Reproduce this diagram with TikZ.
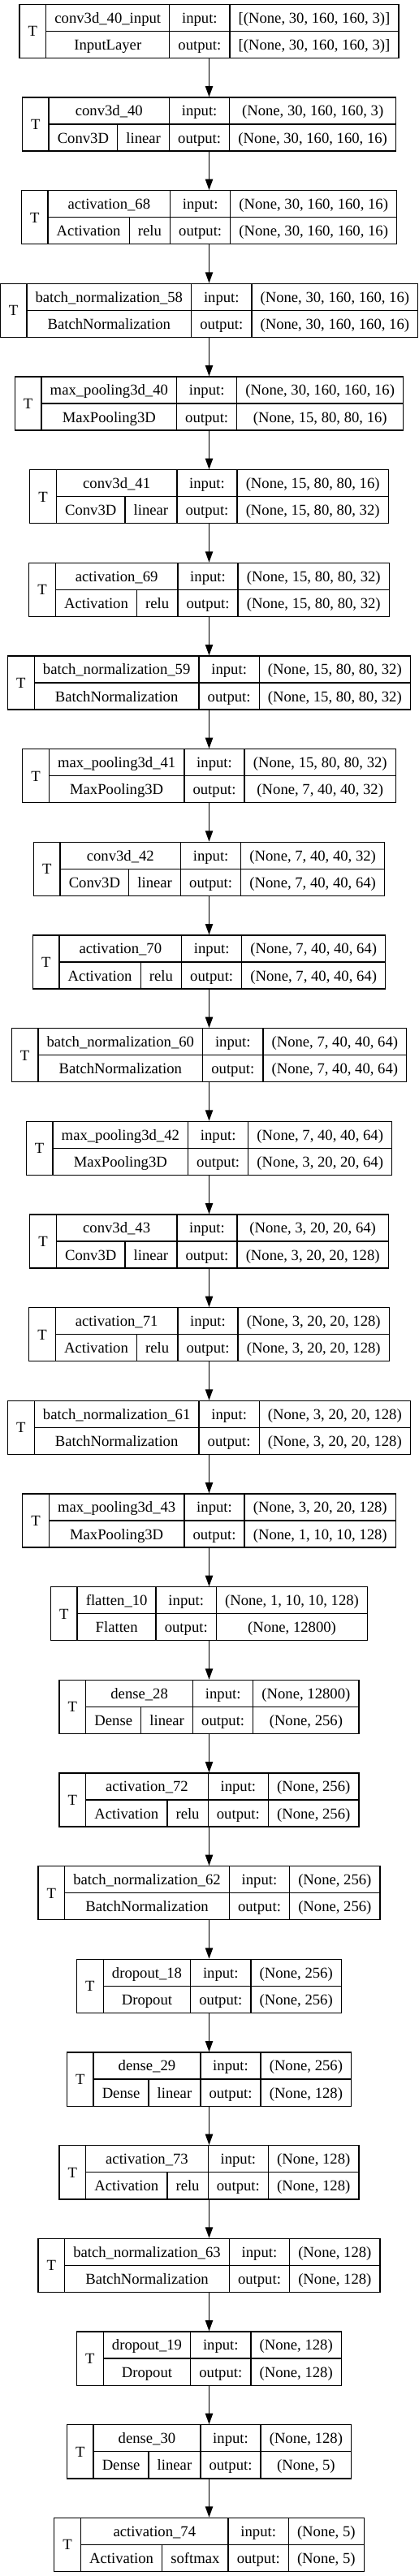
\documentclass[tikz,border=0pt]{standalone}
\usepackage{fontspec}
\setmainfont{Liberation Serif}
\usetikzlibrary{arrows.meta}
\newcommand\kf{\fontsize{14pt}{16.8pt}\selectfont}
\newcommand\kmeasure[2]{%
  \pgfinterruptpicture\setbox0=\hbox{\kf #2}\xdef#1{\the\wd0}\endpgfinterruptpicture}
\tikzset{
  kbox/.style={draw=black, line width=1pt, minimum height=49.6pt, inner sep=0pt, fill=white},
  kline/.style={draw=black, line width=1pt},
  ktext/.style={font=\kf, inner sep=0pt, anchor=base, text=black},
  karr/.style={draw=black, line width=1pt, -{Triangle[length=10pt,width=7pt]}}
}
\newcommand\klayer[7]{%
  \pgfmathsetmacro\cy{-(28.8+86*#2)}%
  \kmeasure\mA{T}\pgfmathsetlengthmacro\wT{\mA+16pt}%
  \kmeasure\mA{#3}\pgfmathsetlengthmacro\wNa{\mA+16pt}%
  \kmeasure\mA{#4}\pgfmathsetlengthmacro\wC{\mA+16pt}%
  \if\relax\detokenize{#5}\relax
    \pgfmathsetlengthmacro\wA{0pt}%
    \pgfmathsetlengthmacro\wN{max(\wNa,\wC)}%
    \pgfmathsetlengthmacro\wC{\wN}%
  \else
    \kmeasure\mA{#5}\pgfmathsetlengthmacro\wA{\mA+16pt}%
    \pgfmathsetlengthmacro\wN{max(\wNa,\wC+\wA)}%
    \pgfmathsetlengthmacro\wC{\wC+(\wN-\wC-\wA)/2}%
  \fi
  \kmeasure\mA{output:}\pgfmathsetlengthmacro\wIO{\mA+16pt}%
  \kmeasure\mA{#6}\kmeasure\mB{#7}%
  \pgfmathsetlengthmacro\wS{max(\mA,\mB)+16pt}%
  \pgfmathsetlengthmacro\wW{\wT+\wN+\wIO+\wS}%
  \pgfmathsetlengthmacro\xL{193.125pt-\wW/2}%
  \pgfmathsetlengthmacro\xa{\xL+\wT}%
  \pgfmathsetlengthmacro\xm{\xa+\wC}%
  \pgfmathsetlengthmacro\xb{\xa+\wN}%
  \pgfmathsetlengthmacro\xc{\xb+\wIO}%
  \pgfmathsetlengthmacro\xR{\xc+\wS}%
  \node[kbox, minimum width=\wW] (#1) at (193.125pt,\cy pt) {};
  \draw[kline] (\xa,\cy pt+24.8pt) -- (\xa,\cy pt-24.8pt);
  \draw[kline] (\xb,\cy pt+24.8pt) -- (\xb,\cy pt-24.8pt);
  \draw[kline] (\xc,\cy pt+24.8pt) -- (\xc,\cy pt-24.8pt);
  \draw[kline] (\xa,\cy pt) -- (\xR,\cy pt);
  \node[ktext] (#1-t) at ({(\xL+\xa)/2},\cy pt-4.8pt) {T};
  \node[ktext] (#1-n) at ({(\xa+\xb)/2},\cy pt+7.6pt) {#3};
  \if\relax\detokenize{#5}\relax
    \node[ktext] (#1-c) at ({(\xa+\xb)/2},\cy pt-17.2pt) {#4};
  \else
    \draw[kline] (\xm,\cy pt) -- (\xm,\cy pt-24.8pt);
    \node[ktext] (#1-c) at ({(\xa+\xm)/2},\cy pt-17.2pt) {#4};
    \node[ktext] (#1-a) at ({(\xm+\xb)/2},\cy pt-17.2pt) {#5};
  \fi
  \node[ktext] (#1-i) at ({(\xb+\xc)/2},\cy pt+7.6pt) {input:};
  \node[ktext] (#1-o) at ({(\xb+\xc)/2},\cy pt-17.2pt) {output:};
  \node[ktext] (#1-si) at ({(\xc+\xR)/2},\cy pt+7.6pt) {#6};
  \node[ktext] (#1-so) at ({(\xc+\xR)/2},\cy pt-17.2pt) {#7};
}
\begin{document}
\begin{tikzpicture}
\useasboundingbox[fill=white] (0pt,0pt) rectangle (386.25pt,-2379.75pt);
\klayer{L0}{0}{conv3d\_40\_input}{InputLayer}{}{[(None, 30, 160, 160, 3)]}{[(None, 30, 160, 160, 3)]}
\klayer{L1}{1}{conv3d\_40}{Conv3D}{linear}{(None, 30, 160, 160, 3)}{(None, 30, 160, 160, 16)}
\klayer{L2}{2}{activation\_68}{Activation}{relu}{(None, 30, 160, 160, 16)}{(None, 30, 160, 160, 16)}
\klayer{L3}{3}{batch\_normalization\_58}{BatchNormalization}{}{(None, 30, 160, 160, 16)}{(None, 30, 160, 160, 16)}
\klayer{L4}{4}{max\_pooling3d\_40}{MaxPooling3D}{}{(None, 30, 160, 160, 16)}{(None, 15, 80, 80, 16)}
\klayer{L5}{5}{conv3d\_41}{Conv3D}{linear}{(None, 15, 80, 80, 16)}{(None, 15, 80, 80, 32)}
\klayer{L6}{6}{activation\_69}{Activation}{relu}{(None, 15, 80, 80, 32)}{(None, 15, 80, 80, 32)}
\klayer{L7}{7}{batch\_normalization\_59}{BatchNormalization}{}{(None, 15, 80, 80, 32)}{(None, 15, 80, 80, 32)}
\klayer{L8}{8}{max\_pooling3d\_41}{MaxPooling3D}{}{(None, 15, 80, 80, 32)}{(None, 7, 40, 40, 32)}
\klayer{L9}{9}{conv3d\_42}{Conv3D}{linear}{(None, 7, 40, 40, 32)}{(None, 7, 40, 40, 64)}
\klayer{L10}{10}{activation\_70}{Activation}{relu}{(None, 7, 40, 40, 64)}{(None, 7, 40, 40, 64)}
\klayer{L11}{11}{batch\_normalization\_60}{BatchNormalization}{}{(None, 7, 40, 40, 64)}{(None, 7, 40, 40, 64)}
\klayer{L12}{12}{max\_pooling3d\_42}{MaxPooling3D}{}{(None, 7, 40, 40, 64)}{(None, 3, 20, 20, 64)}
\klayer{L13}{13}{conv3d\_43}{Conv3D}{linear}{(None, 3, 20, 20, 64)}{(None, 3, 20, 20, 128)}
\klayer{L14}{14}{activation\_71}{Activation}{relu}{(None, 3, 20, 20, 128)}{(None, 3, 20, 20, 128)}
\klayer{L15}{15}{batch\_normalization\_61}{BatchNormalization}{}{(None, 3, 20, 20, 128)}{(None, 3, 20, 20, 128)}
\klayer{L16}{16}{max\_pooling3d\_43}{MaxPooling3D}{}{(None, 3, 20, 20, 128)}{(None, 1, 10, 10, 128)}
\klayer{L17}{17}{flatten\_10}{Flatten}{}{(None, 1, 10, 10, 128)}{(None, 12800)}
\klayer{L18}{18}{dense\_28}{Dense}{linear}{(None, 12800)}{(None, 256)}
\klayer{L19}{19}{activation\_72}{Activation}{relu}{(None, 256)}{(None, 256)}
\klayer{L20}{20}{batch\_normalization\_62}{BatchNormalization}{}{(None, 256)}{(None, 256)}
\klayer{L21}{21}{dropout\_18}{Dropout}{}{(None, 256)}{(None, 256)}
\klayer{L22}{22}{dense\_29}{Dense}{linear}{(None, 256)}{(None, 128)}
\klayer{L23}{23}{activation\_73}{Activation}{relu}{(None, 128)}{(None, 128)}
\klayer{L24}{24}{batch\_normalization\_63}{BatchNormalization}{}{(None, 128)}{(None, 128)}
\klayer{L25}{25}{dropout\_19}{Dropout}{}{(None, 128)}{(None, 128)}
\klayer{L26}{26}{dense\_30}{Dense}{linear}{(None, 128)}{(None, 5)}
\klayer{L27}{27}{activation\_74}{Activation}{softmax}{(None, 5)}{(None, 5)}
\foreach \a [evaluate=\a as \b using int(\a+1)] in {0,...,26} {
  \draw[karr] (L\a.south) -- (L\b.north);
}
\end{tikzpicture}
\end{document}
